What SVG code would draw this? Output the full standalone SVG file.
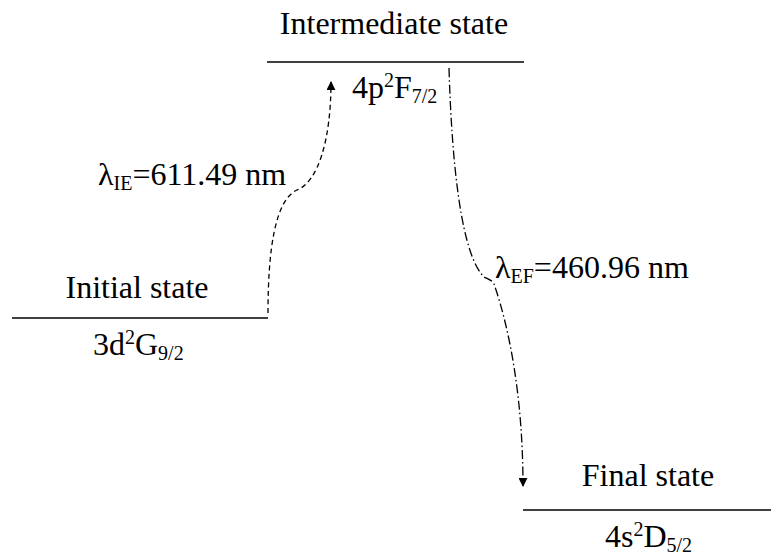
<svg xmlns="http://www.w3.org/2000/svg" width="771" height="556" viewBox="0 0 771 556">
<defs>
<style>
text{font-family:'Liberation Serif','DejaVu Serif',serif;font-size:32px;fill:#000}
.s{font-size:20px}
.lvl{stroke:#000;stroke-width:1.5}
.conn{fill:none;stroke:#000;stroke-width:1.3}
.dash{stroke-dasharray:5,3.5}
.dashdot{stroke-dasharray:9,3,1.5,3}
</style>
<marker id="ah" viewBox="0 0 10 10" refX="9" refY="5" markerWidth="9" markerHeight="9" markerUnits="userSpaceOnUse" orient="auto">
<path d="M0,0 L10,5 L0,10 Z" fill="#000"/>
</marker>
</defs>
<rect width="771" height="556" fill="#fff"/>
<g id="intermediate">
<line class="lvl" x1="267" y1="62" x2="524" y2="62"/>
<text x="394" y="34" text-anchor="middle" font-family="Liberation Serif, serif">Intermediate state</text>
<text x="352" y="98" font-family="Liberation Serif, serif">4p<tspan class="s" dy="-11">2</tspan><tspan dy="11">F</tspan><tspan class="s" dy="5">7/2</tspan></text>
</g>
<g id="initial">
<line class="lvl" x1="12" y1="318" x2="268" y2="318"/>
<text x="137" y="298" text-anchor="middle" font-family="Liberation Serif, serif">Initial state</text>
<text x="93" y="355" font-family="Liberation Serif, serif">3d<tspan class="s" dy="-11">2</tspan><tspan dy="11">G</tspan><tspan class="s" dy="5">9/2</tspan></text>
</g>
<g id="final">
<line class="lvl" x1="523" y1="510" x2="771" y2="510"/>
<text x="648" y="486" text-anchor="middle" font-family="Liberation Serif, serif">Final state</text>
<text x="605" y="547" font-family="Liberation Serif, serif">4s<tspan class="s" dy="-11">2</tspan><tspan dy="11">D</tspan><tspan class="s" dy="5">5/2</tspan></text>
</g>
<g id="connectors">
<path class="conn dash" d="M268,313 C268,250 275,200 297,190 C318,182 331,140 331,82" marker-end="url(#ah)"/>
<path class="conn dashdot" d="M449,68 C452,170 462,255 484,277 C488,279 492,280 494,284 C510,330 523,400 523,486" marker-end="url(#ah)"/>
</g>
<g id="labels">
<text x="98" y="185" font-family="Liberation Serif, serif">λ<tspan class="s" dy="5">IE</tspan><tspan dy="-5">=611.49 nm</tspan></text>
<text x="495" y="278" font-family="Liberation Serif, serif">λ<tspan class="s" dy="5">EF</tspan><tspan dy="-5">=460.96 nm</tspan></text>
</g>
</svg>
